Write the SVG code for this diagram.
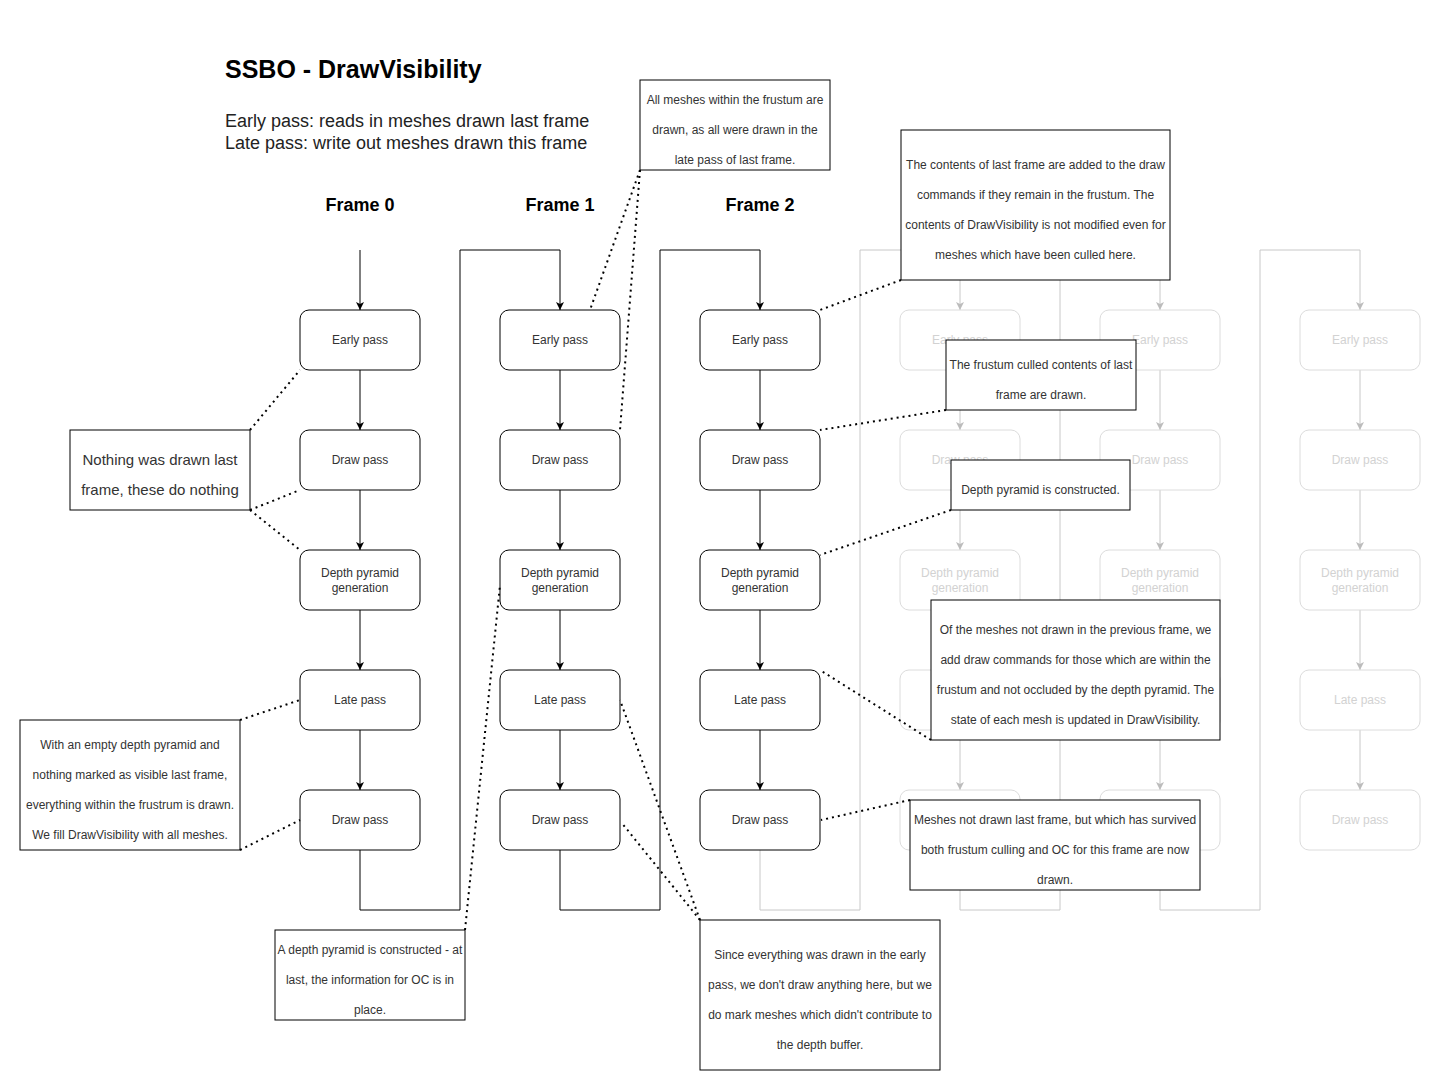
<svg xmlns="http://www.w3.org/2000/svg" width="1442" height="1091" viewBox="0 0 1442 1091">
<style>
  text { font-family: "Liberation Sans", Arial, Helvetica, sans-serif; }
  .title { font-size: 25px; font-weight: bold; fill: #000; }
  .sub { font-size: 18px; fill: #222; }
  .frame { font-size: 18px; font-weight: bold; fill: #000; text-anchor: middle; }
  .node rect { fill: #fff; stroke: #000; stroke-width: 1; }
  .node text { font-size: 12px; fill: #333; text-anchor: middle; }
  .gnode rect { fill: #fff; stroke: #dcdcdc; stroke-width: 1; }
  .gnode text { font-size: 12px; fill: #d2d2d2; text-anchor: middle; }
  .note rect { fill: #fff; stroke: #000; stroke-width: 1; }
  .note text { font-size: 12px; fill: #333; text-anchor: middle; }
  .note.big text { font-size: 15px; }
  .wire { fill: none; stroke: #000; stroke-width: 1; }
  .gwire { fill: none; stroke: #c8c8c8; stroke-width: 1; }
  .dot { fill: none; stroke: #000; stroke-width: 2; stroke-dasharray: 2 4; }
</style>
<defs>
  <marker id="arr" markerUnits="userSpaceOnUse" markerWidth="10" markerHeight="10" refX="9" refY="5" orient="auto">
    <path d="M1,1 L9,5 L1,9 L3,5 Z" fill="#000"/>
  </marker>
  <marker id="garr" markerUnits="userSpaceOnUse" markerWidth="10" markerHeight="10" refX="9" refY="5" orient="auto">
    <path d="M1,1 L9,5 L1,9 L3,5 Z" fill="#bcbcbc"/>
  </marker>
</defs>
<rect x="0" y="0" width="1442" height="1091" fill="#fff"/>

<g id="heading">
  <text class="title" x="225" y="78">SSBO - DrawVisibility</text>
  <text class="sub" x="225" y="127">Early pass: reads in meshes drawn last frame</text>
  <text class="sub" x="225" y="149">Late pass: write out meshes drawn this frame</text>
  <text class="frame" x="360" y="211">Frame 0</text>
  <text class="frame" x="560" y="211">Frame 1</text>
  <text class="frame" x="760" y="211">Frame 2</text>
</g>

<g id="connectors">
  <path class="gwire" d="M760,850 V910 H860 V250 H960 V310" marker-end="url(#garr)"/>
  <path class="gwire" d="M960,850 V910 H1060 V250 H1160 V310" marker-end="url(#garr)"/>
  <path class="gwire" d="M1160,850 V910 H1260 V250 H1360 V310" marker-end="url(#garr)"/>
  <path class="gwire" d="M960,370 V430" marker-end="url(#garr)"/>
  <path class="gwire" d="M960,490 V550" marker-end="url(#garr)"/>
  <path class="gwire" d="M960,610 V670" marker-end="url(#garr)"/>
  <path class="gwire" d="M960,730 V790" marker-end="url(#garr)"/>
  <path class="gwire" d="M1160,370 V430" marker-end="url(#garr)"/>
  <path class="gwire" d="M1160,490 V550" marker-end="url(#garr)"/>
  <path class="gwire" d="M1160,610 V670" marker-end="url(#garr)"/>
  <path class="gwire" d="M1160,730 V790" marker-end="url(#garr)"/>
  <path class="gwire" d="M1360,370 V430" marker-end="url(#garr)"/>
  <path class="gwire" d="M1360,490 V550" marker-end="url(#garr)"/>
  <path class="gwire" d="M1360,610 V670" marker-end="url(#garr)"/>
  <path class="gwire" d="M1360,730 V790" marker-end="url(#garr)"/>
  <path class="wire" d="M360,250 V310" marker-end="url(#arr)"/>
  <path class="wire" d="M360,850 V910 H460 V250 H560 V310" marker-end="url(#arr)"/>
  <path class="wire" d="M560,850 V910 H660 V250 H760 V310" marker-end="url(#arr)"/>
  <path class="wire" d="M360,370 V430" marker-end="url(#arr)"/>
  <path class="wire" d="M360,490 V550" marker-end="url(#arr)"/>
  <path class="wire" d="M360,610 V670" marker-end="url(#arr)"/>
  <path class="wire" d="M360,730 V790" marker-end="url(#arr)"/>
  <path class="wire" d="M560,370 V430" marker-end="url(#arr)"/>
  <path class="wire" d="M560,490 V550" marker-end="url(#arr)"/>
  <path class="wire" d="M560,610 V670" marker-end="url(#arr)"/>
  <path class="wire" d="M560,730 V790" marker-end="url(#arr)"/>
  <path class="wire" d="M760,370 V430" marker-end="url(#arr)"/>
  <path class="wire" d="M760,490 V550" marker-end="url(#arr)"/>
  <path class="wire" d="M760,610 V670" marker-end="url(#arr)"/>
  <path class="wire" d="M760,730 V790" marker-end="url(#arr)"/>
</g>

<g id="g3-early" class="gnode"><rect x="900" y="310" width="120" height="60" rx="9"/><text x="960" y="344">Early pass</text></g>
<g id="g3-draw1" class="gnode"><rect x="900" y="430" width="120" height="60" rx="9"/><text x="960" y="464">Draw pass</text></g>
<g id="g3-depth" class="gnode"><rect x="900" y="550" width="120" height="60" rx="9"/><text x="960" y="577">Depth pyramid</text><text x="960" y="592">generation</text></g>
<g id="g3-late" class="gnode"><rect x="900" y="670" width="120" height="60" rx="9"/></g>
<g id="g3-draw2" class="gnode"><rect x="900" y="790" width="120" height="60" rx="9"/></g>

<g id="g4-early" class="gnode"><rect x="1100" y="310" width="120" height="60" rx="9"/><text x="1160" y="344">Early pass</text></g>
<g id="g4-draw1" class="gnode"><rect x="1100" y="430" width="120" height="60" rx="9"/><text x="1160" y="464">Draw pass</text></g>
<g id="g4-depth" class="gnode"><rect x="1100" y="550" width="120" height="60" rx="9"/><text x="1160" y="577">Depth pyramid</text><text x="1160" y="592">generation</text></g>
<g id="g4-late" class="gnode"><rect x="1100" y="670" width="120" height="60" rx="9"/></g>
<g id="g4-draw2" class="gnode"><rect x="1100" y="790" width="120" height="60" rx="9"/></g>

<g id="g5-early" class="gnode"><rect x="1300" y="310" width="120" height="60" rx="9"/><text x="1360" y="344">Early pass</text></g>
<g id="g5-draw1" class="gnode"><rect x="1300" y="430" width="120" height="60" rx="9"/><text x="1360" y="464">Draw pass</text></g>
<g id="g5-depth" class="gnode"><rect x="1300" y="550" width="120" height="60" rx="9"/><text x="1360" y="577">Depth pyramid</text><text x="1360" y="592">generation</text></g>
<g id="g5-late" class="gnode"><rect x="1300" y="670" width="120" height="60" rx="9"/><text x="1360" y="704">Late pass</text></g>
<g id="g5-draw2" class="gnode"><rect x="1300" y="790" width="120" height="60" rx="9"/><text x="1360" y="824">Draw pass</text></g>

<g id="f0-early" class="node"><rect x="300" y="310" width="120" height="60" rx="9"/><text x="360" y="344">Early pass</text></g>
<g id="f0-draw1" class="node"><rect x="300" y="430" width="120" height="60" rx="9"/><text x="360" y="464">Draw pass</text></g>
<g id="f0-depth" class="node"><rect x="300" y="550" width="120" height="60" rx="9"/><text x="360" y="577">Depth pyramid</text><text x="360" y="592">generation</text></g>
<g id="f0-late" class="node"><rect x="300" y="670" width="120" height="60" rx="9"/><text x="360" y="704">Late pass</text></g>
<g id="f0-draw2" class="node"><rect x="300" y="790" width="120" height="60" rx="9"/><text x="360" y="824">Draw pass</text></g>

<g id="f1-early" class="node"><rect x="500" y="310" width="120" height="60" rx="9"/><text x="560" y="344">Early pass</text></g>
<g id="f1-draw1" class="node"><rect x="500" y="430" width="120" height="60" rx="9"/><text x="560" y="464">Draw pass</text></g>
<g id="f1-depth" class="node"><rect x="500" y="550" width="120" height="60" rx="9"/><text x="560" y="577">Depth pyramid</text><text x="560" y="592">generation</text></g>
<g id="f1-late" class="node"><rect x="500" y="670" width="120" height="60" rx="9"/><text x="560" y="704">Late pass</text></g>
<g id="f1-draw2" class="node"><rect x="500" y="790" width="120" height="60" rx="9"/><text x="560" y="824">Draw pass</text></g>

<g id="f2-early" class="node"><rect x="700" y="310" width="120" height="60" rx="9"/><text x="760" y="344">Early pass</text></g>
<g id="f2-draw1" class="node"><rect x="700" y="430" width="120" height="60" rx="9"/><text x="760" y="464">Draw pass</text></g>
<g id="f2-depth" class="node"><rect x="700" y="550" width="120" height="60" rx="9"/><text x="760" y="577">Depth pyramid</text><text x="760" y="592">generation</text></g>
<g id="f2-late" class="node"><rect x="700" y="670" width="120" height="60" rx="9"/><text x="760" y="704">Late pass</text></g>
<g id="f2-draw2" class="node"><rect x="700" y="790" width="120" height="60" rx="9"/><text x="760" y="824">Draw pass</text></g>

<g id="note-f1-early" class="note"><rect x="640" y="80" width="190" height="90"/>
  <text x="735" y="104">All meshes within the frustum are</text>
  <text x="735" y="134">drawn, as all were drawn in the</text>
  <text x="735" y="164">late pass of last frame.</text></g>
<g id="note-f2-early" class="note"><rect x="901" y="130" width="269" height="150"/>
  <text x="1035.5" y="169">The contents of last frame are added to the draw</text>
  <text x="1035.5" y="199">commands if they remain in the frustum. The</text>
  <text x="1035.5" y="229">contents of DrawVisibility is not modified even for</text>
  <text x="1035.5" y="259">meshes which have been culled here.</text></g>
<g id="note-f2-draw1" class="note"><rect x="946" y="340" width="190" height="70"/>
  <text x="1041" y="369">The frustum culled contents of last</text>
  <text x="1041" y="399">frame are drawn.</text></g>
<g id="note-f2-depth" class="note"><rect x="951" y="460" width="179" height="50"/>
  <text x="1040.5" y="494">Depth pyramid is constructed.</text></g>
<g id="note-f2-late" class="note"><rect x="931" y="600" width="289" height="140"/>
  <text x="1075.5" y="634">Of the meshes not drawn in the previous frame, we</text>
  <text x="1075.5" y="664">add draw commands for those which are within the</text>
  <text x="1075.5" y="694">frustum and not occluded by the depth pyramid. The</text>
  <text x="1075.5" y="724">state of each mesh is updated in DrawVisibility.</text></g>
<g id="note-f2-draw2" class="note"><rect x="910" y="800" width="290" height="90"/>
  <text x="1055" y="824">Meshes not drawn last frame, but which has survived</text>
  <text x="1055" y="854">both frustum culling and OC for this frame are now</text>
  <text x="1055" y="884">drawn.</text></g>
<g id="note-f0-nothing" class="note big"><rect x="70" y="430" width="180" height="80"/>
  <text x="160" y="465">Nothing was drawn last</text>
  <text x="160" y="495">frame, these do nothing</text></g>
<g id="note-f0-late" class="note"><rect x="20" y="720" width="220" height="130"/>
  <text x="130" y="749">With an empty depth pyramid and</text>
  <text x="130" y="779">nothing marked as visible last frame,</text>
  <text x="130" y="809">everything within the frustrum is drawn.</text>
  <text x="130" y="839">We fill DrawVisibility with all meshes.</text></g>
<g id="note-f1-depth" class="note"><rect x="275" y="930" width="190" height="90"/>
  <text x="370" y="954">A depth pyramid is constructed - at</text>
  <text x="370" y="984">last, the information for OC is in</text>
  <text x="370" y="1014">place.</text></g>
<g id="note-f1-late" class="note"><rect x="700" y="920" width="240" height="150"/>
  <text x="820" y="959">Since everything was drawn in the early</text>
  <text x="820" y="989">pass, we don't draw anything here, but we</text>
  <text x="820" y="1019">do mark meshes which didn't contribute to</text>
  <text x="820" y="1049">the depth buffer.</text></g>

<g id="annotation-links">
  <path class="dot" d="M250,430 L300,370"/>
  <path class="dot" d="M250,510 L300,490"/>
  <path class="dot" d="M250,510 L300,550"/>
  <path class="dot" d="M240,720 L300,700"/>
  <path class="dot" d="M240,850 L300,820"/>
  <path class="dot" d="M465,930 L500,585"/>
  <path class="dot" d="M700,920 L620,700"/>
  <path class="dot" d="M700,920 L621,822"/>
  <path class="dot" d="M640,170 L590,310"/>
  <path class="dot" d="M640,170 L620,430"/>
  <path class="dot" d="M901,280 L820,310"/>
  <path class="dot" d="M946,410 L820,430"/>
  <path class="dot" d="M951,510 L820,555"/>
  <path class="dot" d="M931,740 L820,670"/>
  <path class="dot" d="M910,800 L821,820"/>
</g>
</svg>
